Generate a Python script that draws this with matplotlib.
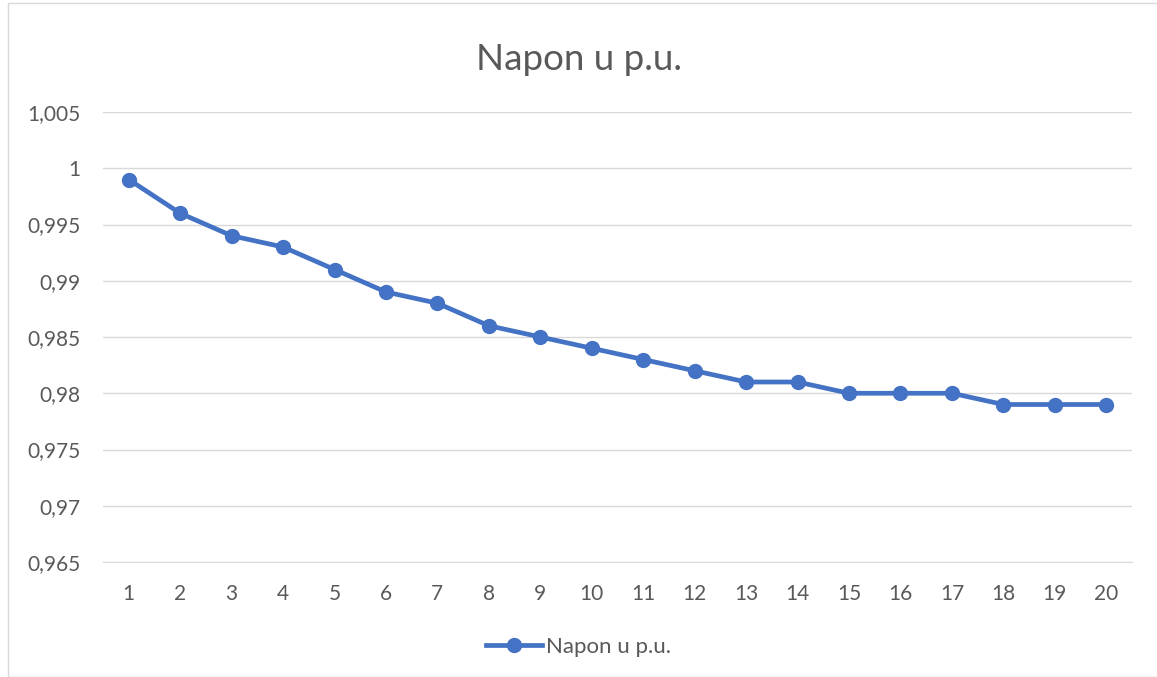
import matplotlib
matplotlib.use("Agg")
import matplotlib.pyplot as plt
from matplotlib.ticker import FuncFormatter, MultipleLocator
from matplotlib.patches import Rectangle

categories = list(range(1, 21))
napon = [0.999, 0.996, 0.994, 0.993, 0.991, 0.989, 0.988, 0.986, 0.985, 0.984,
         0.983, 0.982, 0.981, 0.981, 0.980, 0.980, 0.980, 0.979, 0.979, 0.979]
series_label = "Napon u p.u."
title = "Napon u p.u."

plt.rcParams['font.family'] = ['Lato', 'DejaVu Sans']
text_color = "#595959"
grid_color = "#D9D9D9"
line_color = "#4472C4"

fig = plt.figure(figsize=(11.57, 6.77), dpi=100)
fig.patches.append(Rectangle((8/1157, 0), 1.2, 1 - 3/677, transform=fig.transFigure,
                             fill=False, edgecolor="#D9D9D9", linewidth=1))
ax = fig.add_axes([103/1157, 1 - 562/677, (1132-103)/1157, (562-112)/677])

ax.plot(categories, napon, color=line_color, linewidth=3.4, marker='o',
        markersize=10, label=series_label, zorder=3)

ax.set_xlim(0.5, 20.5)
ax.set_ylim(0.965, 1.005)
ax.yaxis.set_major_locator(MultipleLocator(0.005))
ax.set_xticks(categories)
ax.yaxis.set_major_formatter(FuncFormatter(lambda v, p: f"{round(v, 4):g}".replace('.', ',')))
ax.grid(axis='y', color=grid_color, linewidth=1)
ax.set_axisbelow(True)
for s in ['top', 'right', 'left']:
    ax.spines[s].set_visible(False)
ax.spines['bottom'].set_color(grid_color)
ax.tick_params(length=0, labelsize=15, colors=text_color)
ax.tick_params(axis='x', pad=16)
ax.tick_params(axis='y', pad=16)

fig.text(0.5, 1 - 60/677, title, ha='center', va='center', fontsize=26.5, color=text_color)
fig.legend(loc='center', bbox_to_anchor=(0.5, 1 - 647/677), frameon=False,
           fontsize=16, labelcolor=text_color, handlelength=2.5, handletextpad=0.2)

fig.savefig("out.png", dpi=100)
